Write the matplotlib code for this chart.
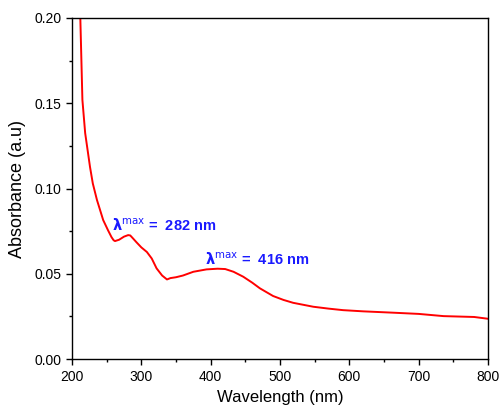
import matplotlib.pyplot as plt
from matplotlib.ticker import MultipleLocator

plt.rcParams['font.family'] = ['Liberation Sans', 'DejaVu Sans']

# UV-Vis spectrum
wavelength = [212, 215, 219, 226, 230, 236, 245, 252, 257, 260, 262, 268, 275, 281, 284, 287,
              293, 300, 308, 315, 322, 330, 337, 342, 350, 360, 375, 394, 410, 421,
              433, 447, 460, 471, 490, 505, 519, 548, 570, 591, 620, 664, 700, 736, 780, 801]
absorbance = [0.200, 0.152, 0.1325, 0.1126, 0.103, 0.0933, 0.0815, 0.0755, 0.0715, 0.0697, 0.0692,
              0.0700, 0.0718, 0.0727, 0.0725, 0.0712, 0.0685, 0.0655, 0.0628, 0.0590, 0.0532,
              0.0490, 0.0467, 0.0475, 0.0480, 0.0490, 0.0512, 0.0526, 0.0530, 0.0528,
              0.0512, 0.0483, 0.0448, 0.0415, 0.0370, 0.0347, 0.0330, 0.0307, 0.0296, 0.0287,
              0.0280, 0.0272, 0.0265, 0.0252, 0.0247, 0.0236]

peak_labels = [(257, 0.0785, '282'), (392, 0.0585, '416')]

fig = plt.figure(figsize=(5.0, 4.09), dpi=100)
ax = fig.add_axes([0.144, 0.122, 0.832, 0.834])

ax.plot(wavelength, absorbance, color='#ff0000', lw=1.4)

for x, y, nm in peak_labels:
    ax.text(x, y, r'$\mathbf{\lambda}^{\mathrm{max}}$' + f' =  {nm} nm', color='#1a1aff',
            fontsize=10.5, fontweight='bold', va='center', ha='left')

ax.set_xlim(200, 800)
ax.set_ylim(0, 0.20)
ax.xaxis.set_major_locator(MultipleLocator(100))
ax.xaxis.set_minor_locator(MultipleLocator(50))
ax.yaxis.set_major_locator(MultipleLocator(0.05))
ax.yaxis.set_minor_locator(MultipleLocator(0.025))
ax.yaxis.set_major_formatter(lambda v, p: f'{v:.2f}')
ax.tick_params(which='both', direction='out', top=False, right=False, labelsize=10, width=1)
ax.tick_params(which='major', length=4)
ax.tick_params(which='minor', length=2)
for s in ax.spines.values():
    s.set_linewidth(1)

ax.set_xlabel('Wavelength (nm)', fontsize=12, labelpad=5)
ax.set_ylabel('Absorbance (a.u)', fontsize=13, labelpad=6)

fig.savefig('out.png', dpi=100)
